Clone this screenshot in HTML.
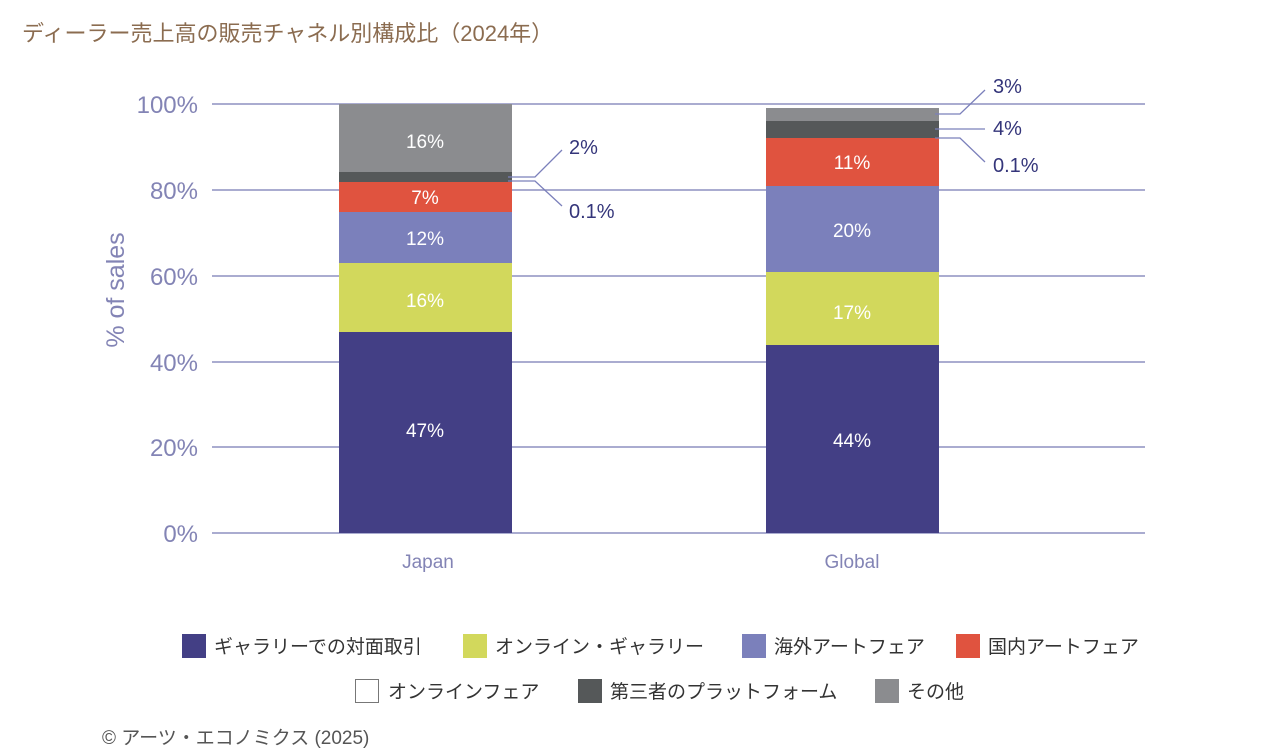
<!DOCTYPE html><html><head><meta charset="utf-8"><style>body{margin:0;background:#fff}svg{display:block}text{font-family:"Liberation Sans","Noto Sans CJK JP",sans-serif}</style></head><body>
<svg width="1280" height="753" viewBox="0 0 1280 753">
<text x="22" y="41" font-size="22" fill="#8b6c50">ディーラー売上高の販売チャネル別構成比（2024年）</text>
<g stroke="#8e90c0" stroke-width="1.5">
<line x1="212" y1="104" x2="1145" y2="104"/><line x1="212" y1="190" x2="1145" y2="190"/><line x1="212" y1="276" x2="1145" y2="276"/><line x1="212" y1="362" x2="1145" y2="362"/><line x1="212" y1="447" x2="1145" y2="447"/><line x1="212" y1="533" x2="1145" y2="533"/></g>
<g font-size="24" fill="#8384b5" text-anchor="end">
<text x="198" y="113">100%</text><text x="198" y="199">80%</text><text x="198" y="285">60%</text><text x="198" y="371">40%</text><text x="198" y="456">20%</text><text x="198" y="542">0%</text></g>
<text transform="translate(124,290) rotate(-90)" font-size="25" fill="#8384b5" text-anchor="middle">% of sales</text>
<rect x="339" y="332" width="173" height="201" fill="#433f85"/>
<rect x="339" y="263" width="173" height="69" fill="#d2d85c"/>
<rect x="339" y="212" width="173" height="51" fill="#7b80bb"/>
<rect x="339" y="182" width="173" height="30" fill="#e0533f"/>
<rect x="339" y="172" width="173" height="10" fill="#555859"/>
<rect x="339" y="104" width="173" height="68" fill="#8b8c8f"/>
<rect x="766" y="345" width="173" height="188" fill="#433f85"/>
<rect x="766" y="272" width="173" height="73" fill="#d2d85c"/>
<rect x="766" y="186" width="173" height="86" fill="#7b80bb"/>
<rect x="766" y="138" width="173" height="48" fill="#e0533f"/>
<rect x="766" y="121" width="173" height="17" fill="#555859"/>
<rect x="766" y="108" width="173" height="13" fill="#8b8c8f"/>
<g font-size="19" fill="#fff" text-anchor="middle">
<text x="425" y="437">47%</text><text x="425" y="307">16%</text><text x="425" y="245">12%</text><text x="425" y="204">7%</text><text x="425" y="148">16%</text>
<text x="852" y="447">44%</text><text x="852" y="319">17%</text><text x="852" y="237">20%</text><text x="852" y="169">11%</text></g>
<g stroke="#7b80bb" stroke-width="1.3" fill="none">
<polyline points="508,177 535,177 562,150"/><polyline points="508,181 535,181 562,206"/>
<polyline points="935,114 960,114 985,90"/><polyline points="935,129 985,129"/><polyline points="935,138 960,138 985,162"/></g>
<g font-size="20" fill="#34357a">
<text x="569" y="154">2%</text><text x="569" y="218">0.1%</text>
<text x="993" y="93">3%</text><text x="993" y="135">4%</text><text x="993" y="172">0.1%</text></g>
<g font-size="19" fill="#8384b5" text-anchor="middle"><text x="428" y="568">Japan</text><text x="852" y="568">Global</text></g>
<g font-size="19" fill="#333">
<rect x="182" y="634" width="24" height="24" fill="#433f85"/><text x="214" y="653">ギャラリーでの対面取引</text>
<rect x="463" y="634" width="24" height="24" fill="#d2d85c"/><text x="495" y="653">オンライン・ギャラリー</text>
<rect x="742" y="634" width="24" height="24" fill="#7b80bb"/><text x="774" y="653">海外アートフェア</text>
<rect x="956" y="634" width="24" height="24" fill="#e0533f"/><text x="988" y="653">国内アートフェア</text>
<rect x="355.5" y="679.5" width="23" height="23" fill="#fff" stroke="#777"/><text x="388" y="698">オンラインフェア</text>
<rect x="578" y="679" width="24" height="24" fill="#555859"/><text x="610" y="698">第三者のプラットフォーム</text>
<rect x="875" y="679" width="24" height="24" fill="#8b8c8f"/><text x="907" y="698">その他</text></g>
<text x="102" y="744" font-size="19" fill="#555">© アーツ・エコノミクス (2025)</text>
</svg></body></html>
